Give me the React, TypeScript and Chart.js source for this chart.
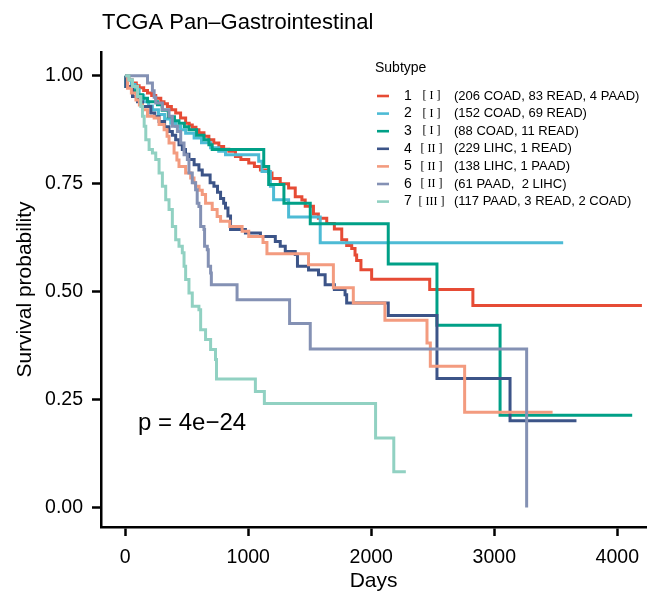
import React, { useEffect, useRef } from "react";
import { Chart, registerables } from "chart.js";

Chart.register(...registerables);

const SANS = '"Liberation Sans", Arial, Helvetica, sans-serif';
const SERIF = '"Liberation Serif", "Times New Roman", serif';

const titleText = "TCGA Pan–Gastrointestinal";
const pValueText = "p = 4e−24";
const legendTitle = "Subtype";
const xAxisTitle = "Days";
const yAxisTitle = "Survival probability";

const xTicks = [0, 1000, 2000, 3000, 4000];
const yTicks = [0, 0.25, 0.5, 0.75, 1];

const subtypeIds = ["1", "2", "3", "4", "5", "6", "7"];
const subtypeClasses = ["[ I ]", "[ I ]", "[ I ]", "[ II ]", "[ II ]", "[ II ]", "[ III ]"];
const subtypeCohorts = [
  "(206 COAD, 83 READ, 4 PAAD)",
  "(152 COAD, 69 READ)",
  "(88 COAD, 11 READ)",
  "(229 LIHC, 1 READ)",
  "(138 LIHC, 1 PAAD)",
  "(61 PAAD,  2 LIHC)",
  "(117 PAAD, 3 READ, 2 COAD)",
];
const subtypeColors = ["#E64B35", "#4DBBD5", "#00A087", "#3C5488", "#F39B7F", "#8491B4", "#91D1C2"];

// Kaplan–Meier estimates: event day and survival just after it
const days1 = [0, 30, 59, 90, 113, 150, 181, 215, 248, 289, 315, 343, 375, 410, 450, 491, 520, 545, 575, 599, 640, 680, 720, 761, 800, 842, 896, 940, 1004, 1050, 1099, 1166, 1193, 1260, 1328, 1382, 1436, 1463, 1530, 1570, 1638, 1700, 1760, 1800, 1841, 1868, 1881, 1916, 2003, 2475, 2826, 4200];
const surv1 = [1, 0.99, 0.983, 0.977, 0.972, 0.966, 0.96, 0.954, 0.948, 0.94, 0.935, 0.929, 0.921, 0.914, 0.902, 0.89, 0.886, 0.881, 0.875, 0.868, 0.86, 0.852, 0.844, 0.836, 0.83, 0.825, 0.813, 0.806, 0.798, 0.79, 0.782, 0.775, 0.762, 0.75, 0.74, 0.72, 0.712, 0.698, 0.68, 0.67, 0.658, 0.645, 0.62, 0.607, 0.6, 0.585, 0.572, 0.551, 0.529, 0.505, 0.468, 0.468];

const days2 = [0, 20, 50, 80, 113, 150, 190, 221, 270, 320, 370, 410, 450, 491, 560, 620, 694, 760, 815, 1085, 1112, 1180, 1206, 1328, 1585, 3560];
const surv2 = [1, 0.99, 0.98, 0.968, 0.955, 0.94, 0.93, 0.921, 0.91, 0.9, 0.89, 0.883, 0.875, 0.867, 0.856, 0.845, 0.833, 0.825, 0.817, 0.802, 0.778, 0.744, 0.713, 0.673, 0.613, 0.613];

const days3 = [0, 5, 60, 100, 140, 181, 262, 300, 350, 400, 437, 480, 518, 580, 640, 680, 707, 1126, 1166, 1290, 1504, 2138, 2534, 3047, 4121];
const surv3 = [1, 0.975, 0.965, 0.956, 0.948, 0.94, 0.933, 0.92, 0.905, 0.896, 0.89, 0.882, 0.875, 0.862, 0.852, 0.84, 0.829, 0.79, 0.748, 0.705, 0.657, 0.564, 0.422, 0.214, 0.214];

const days4 = [0, 5, 59, 100, 140, 208, 240, 275, 320, 356, 383, 410, 437, 464, 490, 518, 560, 599, 626, 690, 721, 750, 775, 800, 815, 835, 856, 977, 1099, 1220, 1260, 1301, 1382, 1400, 1490, 1571, 1625, 1700, 1787, 1800, 2138, 2534, 3128, 3668];
const surv4 = [1, 0.975, 0.952, 0.94, 0.929, 0.914, 0.905, 0.894, 0.882, 0.871, 0.862, 0.852, 0.84, 0.829, 0.818, 0.806, 0.794, 0.782, 0.77, 0.752, 0.744, 0.73, 0.716, 0.705, 0.694, 0.675, 0.644, 0.636, 0.628, 0.616, 0.605, 0.593, 0.586, 0.559, 0.55, 0.539, 0.516, 0.505, 0.493, 0.474, 0.445, 0.299, 0.201, 0.201];

const days5 = [0, 19, 50, 87, 115, 140, 181, 235, 275, 316, 340, 356, 397, 420, 437, 491, 532, 559, 572, 600, 626, 653, 707, 747, 775, 850, 950, 1004, 1120, 1152, 1490, 1692, 1854, 2111, 2453, 2480, 2759, 3474];
const surv5 = [1, 0.971, 0.96, 0.944, 0.932, 0.921, 0.906, 0.902, 0.887, 0.875, 0.86, 0.844, 0.821, 0.805, 0.79, 0.775, 0.763, 0.752, 0.744, 0.735, 0.725, 0.705, 0.69, 0.674, 0.663, 0.651, 0.64, 0.628, 0.614, 0.588, 0.5625, 0.509, 0.474, 0.434, 0.381, 0.327, 0.221, 0.221];

const days6 = [0, 181, 221, 235, 248, 302, 356, 383, 424, 451, 478, 505, 518, 545, 572, 585, 599, 613, 640, 645, 667, 675, 694, 700, 909, 1336, 1504, 3263];
const surv6 = [1, 0.983, 0.965, 0.95, 0.937, 0.921, 0.906, 0.883, 0.871, 0.844, 0.817, 0.806, 0.775, 0.752, 0.736, 0.705, 0.697, 0.651, 0.644, 0.605, 0.597, 0.559, 0.543, 0.516, 0.481, 0.426, 0.367, 0];

const days7 = [0, 30, 59, 100, 127, 140, 154, 167, 194, 221, 248, 275, 302, 329, 356, 383, 410, 437, 464, 478, 491, 518, 545, 599, 613, 653, 694, 734, 742, 1058, 1131, 2035, 2183, 2281];
const surv7 = [1, 0.99, 0.975, 0.952, 0.929, 0.906, 0.883, 0.852, 0.829, 0.821, 0.806, 0.775, 0.744, 0.713, 0.69, 0.651, 0.62, 0.605, 0.59, 0.559, 0.528, 0.497, 0.466, 0.458, 0.412, 0.389, 0.366, 0.343, 0.298, 0.269, 0.241, 0.161, 0.083, 0.083];

const seriesDays = [days1, days2, days3, days4, days5, days6, days7];
const seriesSurv = [surv1, surv2, surv3, surv4, surv5, surv6, surv7];

// Title, p-value and the subtype key, painted on top of the plot
const overlayPlugin = {
  id: "overlay",
  afterDraw(chart: any) {
    const ctx = chart.ctx as CanvasRenderingContext2D;
    ctx.save();
    ctx.fillStyle = "#000";
    ctx.textBaseline = "middle";
    ctx.textAlign = "left";

    ctx.font = `22px ${SANS}`;
    ctx.fillText(titleText, 102, 23);

    ctx.font = `24px ${SANS}`;
    ctx.fillText(pValueText, 138, 423);

    ctx.font = `14px ${SANS}`;
    ctx.fillText(legendTitle, 375, 68);

    subtypeIds.forEach((id, i) => {
      const y = 96 + i * 17.6;
      ctx.strokeStyle = subtypeColors[i];
      ctx.lineWidth = 2.6;
      ctx.beginPath();
      ctx.moveTo(377, y);
      ctx.lineTo(389, y);
      ctx.stroke();

      ctx.fillStyle = "#000";
      ctx.textAlign = "left";
      ctx.font = `14px ${SANS}`;
      ctx.fillText(id, 404, y);

      ctx.textAlign = "center";
      ctx.font = `12px ${SERIF}`;
      ctx.fillText(subtypeClasses[i], 431.5, y);

      ctx.textAlign = "left";
      ctx.font = `13px ${SANS}`;
      ctx.fillText(subtypeCohorts[i], 454, y);
    });
    ctx.restore();
  },
};

export default function App() {
  const canvasRef = useRef<HTMLCanvasElement>(null);

  useEffect(() => {
    const canvas = canvasRef.current;
    if (!canvas) return;

    const datasets = seriesDays.map((days, i) => ({
      label: subtypeIds[i],
      data: days.map((t, j) => ({ x: t, y: seriesSurv[i][j] })),
      borderColor: subtypeColors[i],
      backgroundColor: subtypeColors[i],
      borderWidth: 3,
      stepped: "before" as const,
      pointRadius: 0,
      pointHoverRadius: 0,
      fill: false,
      order: subtypeIds.length - i,
      borderCapStyle: "butt" as const,
      borderJoinStyle: "miter" as const,
    }));

    const axisGrid = {
      display: true,
      drawOnChartArea: false,
      drawTicks: true,
      tickLength: 9,
      tickWidth: 2.5,
      tickColor: "#000",
    };
    const axisBorder = { display: true, color: "#000", width: 2.5 };

    const chart = new Chart(canvas, {
      type: "line",
      data: { datasets },
      options: {
        animation: false,
        responsive: false,
        devicePixelRatio: 1,
        layout: { padding: { top: 52, left: 0, right: 0, bottom: 0 } },
        plugins: {
          legend: { display: false },
          tooltip: { enabled: false },
          title: { display: false },
        },
        scales: {
          x: {
            type: "linear",
            min: -197,
            max: 4235,
            afterBuildTicks: (scale: any) => {
              scale.ticks = xTicks.map((v) => ({ value: v }));
            },
            afterFit: (scale: any) => {
              scale.height = 65;
            },
            ticks: {
              color: "#000",
              font: { family: SANS, size: 19.5 },
              padding: 10,
              maxRotation: 0,
              callback: (v: any) => String(v),
            },
            grid: axisGrid,
            border: axisBorder,
            title: {
              display: true,
              text: xAxisTitle,
              color: "#000",
              font: { family: SANS, size: 21, lineHeight: 1 },
              padding: { top: 0, bottom: 0 },
            },
          },
          y: {
            type: "linear",
            min: -0.045,
            max: 1.055,
            afterBuildTicks: (scale: any) => {
              scale.ticks = yTicks.map((v) => ({ value: v }));
            },
            afterFit: (scale: any) => {
              scale.width = 101;
            },
            ticks: {
              color: "#000",
              font: { family: SANS, size: 19.5 },
              padding: 9,
              callback: (v: any) => Number(v).toFixed(2),
            },
            grid: axisGrid,
            border: axisBorder,
            title: {
              display: true,
              text: yAxisTitle,
              color: "#000",
              font: { family: SANS, size: 21, lineHeight: 1 },
              padding: { top: 15, bottom: 0 },
            },
          },
        },
      },
      plugins: [overlayPlugin],
    } as any);

    return () => chart.destroy();
  }, []);

  return (
    <div style={{ position: "fixed", left: 0, top: 0, width: 649, height: 592, background: "#fff" }}>
      <canvas ref={canvasRef} width={649} height={592} style={{ display: "block" }} />
    </div>
  );
}
